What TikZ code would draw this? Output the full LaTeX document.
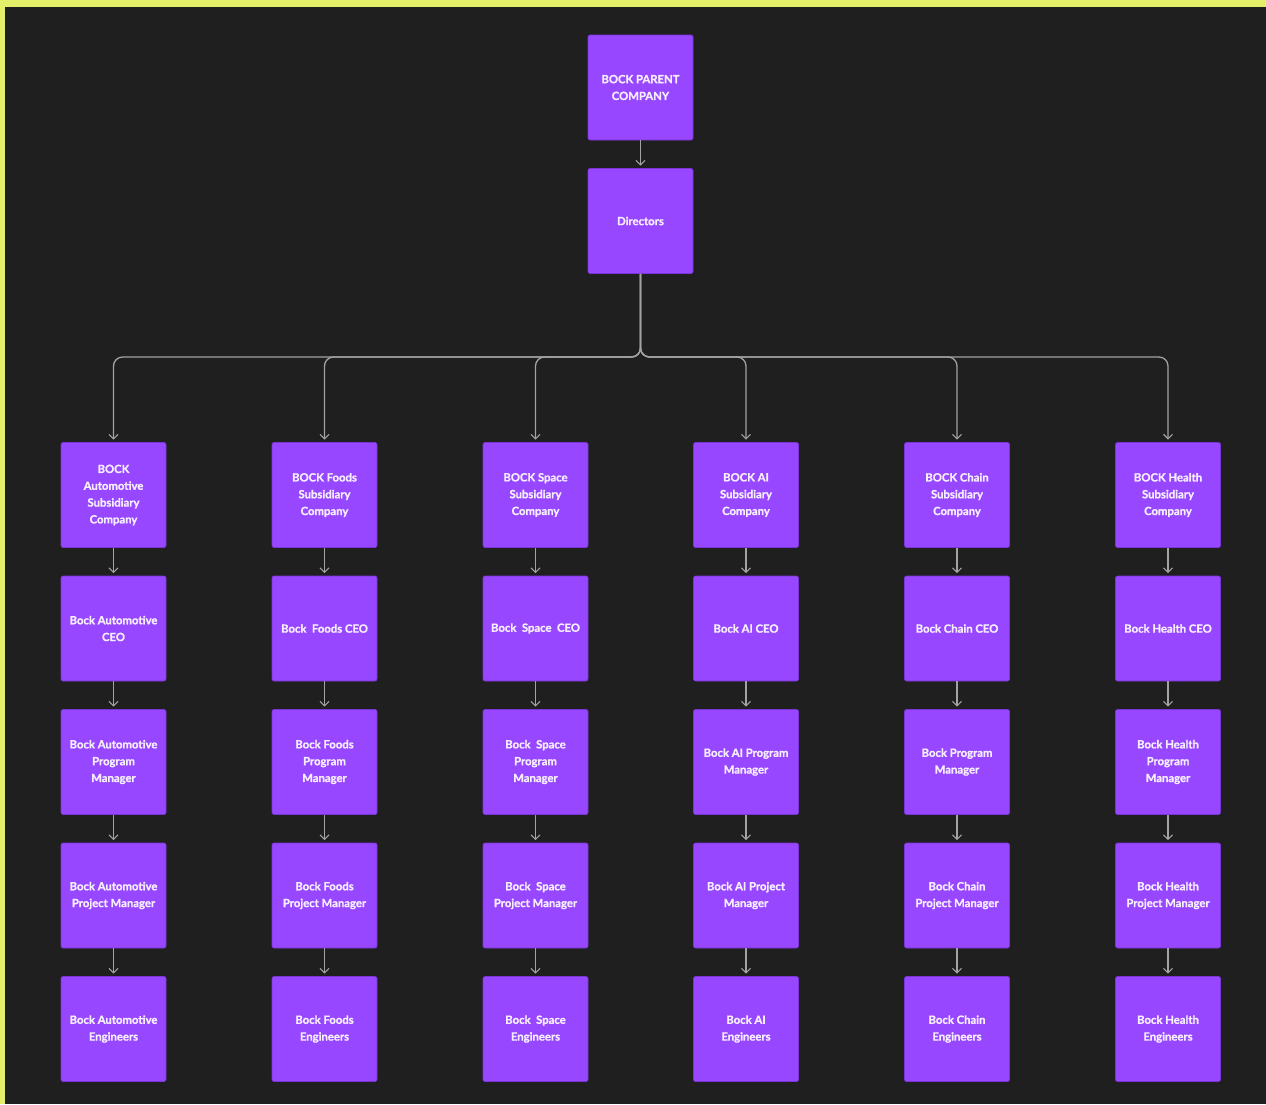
\documentclass[tikz,border=0pt]{standalone}
\usepackage{fontspec}
\setmainfont{Lato}[BoldFeatures={FakeBold=1.2}]
\usetikzlibrary{arrows.meta}
\definecolor{bgyellow}{HTML}{E4F06A}
\definecolor{bgdark}{HTML}{1F1F1F}
\definecolor{boxpurple}{HTML}{9747FF}
\definecolor{boxedge}{HTML}{7B35D6}
\definecolor{conncol}{HTML}{A3A3A3}
\definecolor{txtcol}{HTML}{F6EEFF}
\tikzset{
  orgbox/.style={draw=boxedge, line width=0.6pt, fill=boxpurple, rounded corners=2pt,
    minimum width=105pt, minimum height=105pt, inner sep=0pt, align=center,
    text=txtcol, font=\fontsize{11.3}{16.8}\selectfont\bfseries},
  conn/.style={draw=conncol, line width=1.3pt, -{Straight Barb[length=4.5pt,width=9pt,line width=1.2pt]}, shorten >=2.5pt},
}
\begin{document}
\begin{tikzpicture}[x=1pt,y=-1pt]
\useasboundingbox (0,0) rectangle (1266,1104);
\fill[bgyellow] (0,0) rectangle (1266,1104);
\fill[bgdark] (5,7) rectangle (1266,1104);

\node[orgbox] (top) at (640.5,87.5) {BOCK PARENT\\COMPANY};
\node[orgbox] (dir) at (640.5,221) {Directors};

% columns
\def\cA{113.5}\def\cB{324.5}\def\cC{535.5}\def\cD{746}\def\cE{957}\def\cF{1168}
\def\rA{495}\def\rB{628.5}\def\rC{762}\def\rD{895.5}\def\rE{1029}

\node[orgbox] (a1) at (\cA,\rA) {BOCK\\Automotive\\Subsidiary\\Company};
\node[orgbox] (a2) at (\cA,\rB) {Bock Automotive\\CEO};
\node[orgbox] (a3) at (\cA,\rC) {Bock Automotive\\Program\\Manager};
\node[orgbox] (a4) at (\cA,\rD) {Bock Automotive\\Project Manager};
\node[orgbox] (a5) at (\cA,\rE) {Bock Automotive\\Engineers};

\node[orgbox] (b1) at (\cB,\rA) {BOCK Foods\\Subsidiary\\Company};
\node[orgbox] (b2) at (\cB,\rB) {Bock\ \ Foods CEO};
\node[orgbox] (b3) at (\cB,\rC) {Bock Foods\\Program\\Manager};
\node[orgbox] (b4) at (\cB,\rD) {Bock Foods\\Project Manager};
\node[orgbox] (b5) at (\cB,\rE) {Bock Foods\\Engineers};

\node[orgbox] (c1) at (\cC,\rA) {BOCK Space\\Subsidiary\\Company};
\node[orgbox] (c2) at (\cC,\rB) {Bock\ \ Space\ \ CEO};
\node[orgbox] (c3) at (\cC,\rC) {Bock\ \ Space\\Program\\Manager};
\node[orgbox] (c4) at (\cC,\rD) {Bock\ \ Space\\Project Manager};
\node[orgbox] (c5) at (\cC,\rE) {Bock\ \ Space\\Engineers};

\node[orgbox] (d1) at (\cD,\rA) {BOCK AI\\Subsidiary\\Company};
\node[orgbox] (d2) at (\cD,\rB) {Bock AI CEO};
\node[orgbox] (d3) at (\cD,\rC) {Bock AI Program\\Manager};
\node[orgbox] (d4) at (\cD,\rD) {Bock AI Project\\Manager};
\node[orgbox] (d5) at (\cD,\rE) {Bock AI\\Engineers};

\node[orgbox] (e1) at (\cE,\rA) {BOCK Chain\\Subsidiary\\Company};
\node[orgbox] (e2) at (\cE,\rB) {Bock Chain CEO};
\node[orgbox] (e3) at (\cE,\rC) {Bock Program\\Manager};
\node[orgbox] (e4) at (\cE,\rD) {Bock Chain\\Project Manager};
\node[orgbox] (e5) at (\cE,\rE) {Bock Chain\\Engineers};

\node[orgbox] (f1) at (\cF,\rA) {BOCK Health\\Subsidiary\\Company};
\node[orgbox] (f2) at (\cF,\rB) {Bock Health CEO};
\node[orgbox] (f3) at (\cF,\rC) {Bock Health\\Program\\Manager};
\node[orgbox] (f4) at (\cF,\rD) {Bock Health\\Project Manager};
\node[orgbox] (f5) at (\cF,\rE) {Bock Health\\Engineers};

\draw[conn] (top) -- (dir);
\coordinate (bus) at (640.5,357);
\foreach \c in {a,b,c,d,e,f}{
  \draw[conn, rounded corners=9pt] (dir.south) -- (bus) -| (\c1.north);
  \draw[conn] (\c1) -- (\c2);
  \draw[conn] (\c2) -- (\c3);
  \draw[conn] (\c3) -- (\c4);
  \draw[conn] (\c4) -- (\c5);
}
\end{tikzpicture}
\end{document}
